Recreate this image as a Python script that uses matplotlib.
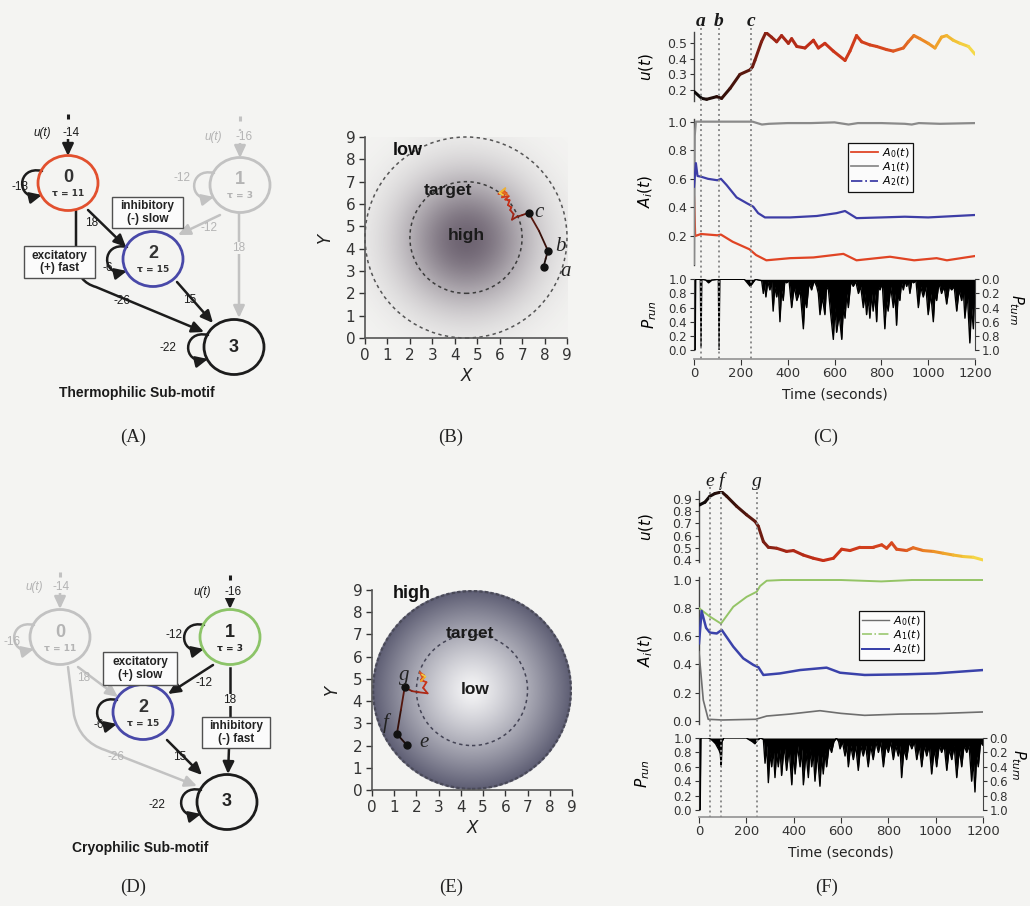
import numpy as np
import matplotlib
matplotlib.use("Agg")
import matplotlib.pyplot as plt
from matplotlib.patches import Ellipse, FancyArrowPatch, Rectangle, Circle
from matplotlib.path import Path
from matplotlib.collections import LineCollection
from matplotlib.colors import LinearSegmentedColormap
from matplotlib.lines import Line2D
import matplotlib.transforms as mtransforms

plt.rcParams['font.family'] = ['DejaVu Sans']
plt.rcParams['mathtext.fontset'] = 'dejavusans'

# ======================= DATA =======================
T_MAX = 1200
time_ticks = [0, 200, 400, 600, 800, 1000, 1200]

# ---- panel C (thermophilic) ----
c_marks_t = [30, 105, 245]
c_marks_lbl = ['a', 'b', 'c']
c_u_t = [0, 33, 54, 97, 118, 154, 196, 240, 250, 260, 288, 307, 331, 353, 374, 403, 417, 439, 474, 510,
         531, 559, 595, 645, 666, 694, 716, 751, 780, 822, 851, 894, 915, 939, 965, 1000, 1029, 1057, 1079, 1107,
         1136, 1172, 1200]
c_u = [0.19, 0.146, 0.14, 0.157, 0.146, 0.21, 0.30, 0.33, 0.35, 0.39, 0.51, 0.57, 0.54, 0.51, 0.55, 0.50, 0.53, 0.48, 0.47, 0.52,
       0.47, 0.50, 0.45, 0.39, 0.45, 0.55, 0.51, 0.49, 0.48, 0.46, 0.45, 0.47, 0.51, 0.55, 0.53, 0.50, 0.47, 0.54, 0.55, 0.52,
       0.50, 0.48, 0.43]
c_a0_t = [0, 5, 30, 100, 115, 165, 237, 265, 309, 410, 510, 638, 694, 837, 940, 1036, 1080, 1200]
c_a0 = [0.475, 0.2, 0.214, 0.205, 0.21, 0.16, 0.107, 0.067, 0.03, 0.045, 0.05, 0.075, 0.03, 0.055, 0.03, 0.045, 0.03, 0.06]
c_a1_t = [0, 3, 8, 250, 270, 290, 320, 400, 500, 600, 640, 660, 700, 800, 900, 930, 960, 1050, 1200]
c_a1 = [0.0, 0.9, 1.0, 1.0, 0.99, 0.98, 0.985, 0.99, 0.99, 0.995, 0.985, 0.98, 0.99, 0.99, 0.985, 0.98, 0.99, 0.985, 0.99]
c_a2_t = [0, 8, 15, 30, 60, 100, 115, 139, 182, 225, 253, 274, 303, 410, 524, 609, 645, 694, 800, 900, 1000, 1200]
c_a2 = [0.545, 0.71, 0.62, 0.615, 0.60, 0.59, 0.60, 0.557, 0.47, 0.43, 0.405, 0.36, 0.33, 0.33, 0.34, 0.36, 0.375, 0.325,
        0.33, 0.335, 0.33, 0.347]
c_prun_pts = [(0, 0.0), (5, 0.0), (7, 1.0), (27, 1.0), (30, 0.05), (33, 1.0), (50, 0.99), (62, 0.95), (76, 0.99),
              (104, 1.0), (107, 0.0), (110, 1.0), (215, 1.0), (240, 0.9), (262, 1.0), (289, 0.98), (296, 0.8),
              (301, 0.95), (307, 0.75), (315, 0.97), (324, 0.85), (331, 0.97), (338, 0.55), (345, 0.9), (353, 0.75),
              (360, 0.9), (367, 0.4), (374, 0.85), (381, 0.7), (388, 0.98), (395, 0.95), (406, 0.98), (417, 0.6),
              (428, 0.9), (439, 0.7), (453, 0.85), (467, 0.3), (474, 0.75), (481, 0.6), (491, 0.95), (502, 0.85),
              (513, 0.98), (524, 0.9), (531, 0.8), (538, 0.5), (548, 0.75), (559, 0.5), (566, 0.9), (574, 0.85),
              (584, 0.5), (595, 0.15), (602, 0.6), (609, 0.25), (620, 0.5), (631, 0.15), (638, 0.6), (645, 0.45),
              (652, 0.8), (659, 0.6), (670, 0.97), (680, 0.9), (691, 0.97), (702, 0.8), (712, 0.9), (723, 0.6),
              (730, 0.8), (737, 0.5), (744, 0.75), (751, 0.45), (758, 0.8), (765, 0.55), (772, 0.8), (780, 0.4),
              (787, 0.9), (794, 0.85), (804, 0.95), (815, 0.3), (822, 0.7), (829, 0.55), (840, 0.9), (851, 0.6),
              (858, 0.8), (865, 0.35), (872, 0.8), (879, 0.7), (886, 0.95), (894, 0.85), (901, 0.98), (908, 0.9),
              (915, 0.98), (922, 0.8), (930, 0.98), (937, 0.95), (948, 0.98), (958, 0.6), (968, 0.9), (979, 0.75),
              (990, 0.9), (1000, 0.5), (1011, 0.8), (1022, 0.4), (1029, 0.8), (1036, 0.7), (1046, 0.95),
              (1057, 0.8), (1068, 0.9), (1079, 0.65), (1090, 0.9), (1100, 0.85), (1111, 0.9), (1122, 0.55),
              (1132, 0.85), (1143, 0.7), (1150, 0.85), (1157, 0.45), (1167, 0.8), (1178, 0.1), (1185, 0.6),
              (1193, 0.3), (1200, 0.95)]

# ---- panel F (cryophilic) ----
f_marks_t = [46, 93, 245]
f_marks_lbl = ['e', 'f', 'g']
f_u_t = [0, 4, 25, 46, 67, 96, 117, 159, 201, 237, 251, 272, 293, 328, 370, 399, 441, 483, 525, 568,
         603, 638, 680, 736, 772, 793, 814, 835, 877, 905, 948, 990, 1032, 1075, 1117, 1159, 1200]
f_u = [0.85, 0.853, 0.873, 0.922, 0.944, 0.958, 0.922, 0.84, 0.77, 0.716, 0.675, 0.55, 0.504, 0.496, 0.47, 0.477,
       0.44, 0.414, 0.395, 0.414, 0.488, 0.477, 0.504, 0.504, 0.524, 0.496, 0.54, 0.488, 0.477, 0.50, 0.477, 0.47,
       0.455, 0.44, 0.428, 0.422, 0.40]
f_a0_t = [0, 18, 39, 100, 240, 286, 384, 511, 600, 700, 850, 1000, 1200]
f_a0 = [0.49, 0.147, 0.01, 0.005, 0.01, 0.033, 0.047, 0.071, 0.052, 0.038, 0.047, 0.05, 0.062]
f_a1_t = [0, 46, 93, 145, 201, 244, 258, 286, 350, 500, 600, 770, 900, 1100, 1200]
f_a1 = [0.80, 0.74, 0.69, 0.81, 0.88, 0.917, 0.957, 0.995, 1.0, 1.0, 1.0, 0.99, 1.0, 1.0, 1.0]
f_a2_t = [0, 11, 30, 46, 75, 96, 145, 187, 230, 251, 272, 342, 427, 539, 596, 700, 877, 1000, 1200]
f_a2 = [0.55, 0.78, 0.66, 0.626, 0.62, 0.645, 0.526, 0.443, 0.396, 0.38, 0.325, 0.336, 0.36, 0.377, 0.341,
        0.325, 0.33, 0.336, 0.36]
f_prun_pts = [(0, 0.0), (5, 0.0), (8, 1.0), (40, 1.0), (55, 0.97), (70, 0.92), (85, 0.83), (90, 0.78), (94, 0.6),
              (97, 0.95), (105, 1.0), (200, 1.0), (225, 0.95), (236, 0.92), (246, 0.97), (260, 1.0), (272, 0.98),
              (279, 0.65), (286, 0.9), (293, 0.38), (300, 0.8), (307, 0.6), (314, 0.85), (321, 0.45), (328, 0.8),
              (335, 0.6), (342, 0.85), (349, 0.48), (360, 0.9), (370, 0.55), (381, 0.85), (392, 0.35), (399, 0.8),
              (406, 0.5), (416, 0.9), (427, 0.6), (434, 0.85), (441, 0.35), (452, 0.8), (462, 0.45), (469, 0.85),
              (476, 0.6), (483, 0.8), (490, 0.4), (500, 0.8), (511, 0.33), (518, 0.75), (525, 0.5), (532, 0.8),
              (539, 0.6), (550, 0.9), (560, 0.8), (570, 0.95), (581, 1.0), (590, 0.95), (596, 0.85), (606, 0.95),
              (617, 0.75), (624, 0.9), (631, 0.6), (641, 0.9), (652, 0.7), (662, 0.9), (673, 0.55), (683, 0.9),
              (694, 0.75), (704, 0.9), (715, 0.6), (725, 0.9), (736, 0.7), (747, 0.95), (758, 0.8), (768, 0.95),
              (779, 0.6), (790, 0.9), (800, 0.8), (810, 0.95), (821, 0.7), (831, 0.9), (842, 0.75), (849, 0.9),
              (856, 0.45), (866, 0.85), (877, 0.7), (888, 0.95), (899, 0.85), (910, 0.95), (920, 0.7), (931, 0.9),
              (941, 0.6), (952, 0.9), (962, 0.75), (973, 0.9), (983, 0.5), (994, 0.85), (1004, 0.6), (1015, 0.9),
              (1025, 0.8), (1036, 0.9), (1047, 0.55), (1057, 0.85), (1068, 0.7), (1078, 0.9), (1089, 0.45),
              (1100, 0.85), (1110, 0.6), (1120, 0.9), (1131, 0.8), (1141, 0.9), (1152, 0.4), (1159, 0.7),
              (1166, 0.25), (1173, 0.75), (1180, 0.6), (1190, 0.95), (1198, 0.9), (1200, 0.95)]

# ---- panel B / E trajectories ----
b_traj_x = [7.96, 8.05, 8.15, 7.75, 7.29, 7.0, 6.77, 6.55, 6.62, 6.47, 6.52, 6.37, 6.44, 6.25, 6.4, 6.1, 6.3,
            5.95, 6.2, 6.35, 6.1, 6.25, 6.0, 6.15]
b_traj_y = [3.2, 3.55, 3.91, 4.8, 5.61, 5.5, 5.43, 5.3, 5.55, 5.73, 5.85, 5.95, 6.17, 6.2, 6.35, 6.3, 6.5, 6.45,
            6.6, 6.4, 6.55, 6.7, 6.5, 6.4]
b_traj_t = [30, 70, 105, 175, 245, 270, 300, 330, 360, 400, 450, 500, 550, 600, 650, 700, 750, 800, 850, 900,
            950, 1050, 1120, 1200]
b_pts_x = [7.96, 8.15, 7.29]
b_pts_y = [3.2, 3.91, 5.61]
b_pts_lbl = ['a', 'b', 'c']
b_lbl_xy = [(8.93, 2.98), (8.7, 4.1), (7.75, 5.6)]

e_traj_x = [1.57, 1.12, 1.3, 1.47, 1.8, 2.1, 2.5, 2.3, 2.45, 2.2, 2.35, 2.15, 2.3, 2.2, 2.4, 2.25]
e_traj_y = [2.02, 2.52, 3.6, 4.62, 4.45, 4.4, 4.35, 4.6, 4.85, 4.95, 5.15, 5.3, 5.0, 4.9, 5.1, 5.2]
e_traj_t = [46, 93, 170, 245, 300, 360, 420, 500, 580, 660, 740, 820, 900, 1000, 1100, 1200]
e_pts_x = [1.57, 1.12, 1.47]
e_pts_y = [2.02, 2.52, 4.62]
e_pts_lbl = ['e', 'f', 'g']
e_lbl_xy = [(2.35, 2.15), (0.62, 3.0), (1.45, 5.15)]

arena_ticks = list(range(10))

# ---- network diagrams (pixel coordinates of the drawing) ----
RED, BLUE, GREEN, GRAYN, BLK = '#e2502e', '#4848a8', '#8cc468', '#c2c2c2', '#1c1c1c'
GTXT = '#b4b4b4'

a_node_lbl = ['0', '1', '2', '3']
a_node_xy = [(68, 183), (240, 185), (153, 259), (234, 347)]
a_node_tau = ['τ = 11', 'τ = 3', 'τ = 15', None]
a_node_col = [RED, GRAYN, BLUE, BLK]
a_node_txt = ['#333333', GTXT, '#333333', '#222222']
a_loops = [(0, BLK), (1, GRAYN), (2, BLK), (3, BLK)]
a_edges = [((88, 210), (126, 247), BLK), ((177, 282), (213, 323), BLK),
           ((220, 215), (178, 235), GRAYN), ((239, 213), (239, 318), GRAYN)]
a_paths = [([(76, 211), (76, 262), (78, 282), (96, 287), (204, 332)], BLK)]
a_inputs = [(68, 114, 156, BLK), (240, 116, 158, GRAYN)]
a_labels = [('u(t)', (42, 133), BLK, 'italic', False), ('-14', (71, 133), BLK, 'normal', True),
            ('u(t)', (213, 137), GTXT, 'italic', False), ('-16', (244, 137), GTXT, 'normal', True),
            ('-18', (20, 187), BLK, 'normal', False), ('18', (92, 223), BLK, 'normal', False),
            ('-26', (122, 301), BLK, 'normal', False), ('-6', (108, 268), BLK, 'normal', False),
            ('15', (190, 300), BLK, 'normal', False), ('-22', (168, 348), BLK, 'normal', False),
            ('-12', (182, 178), GTXT, 'normal', False), ('-12', (209, 228), GTXT, 'normal', False),
            ('18', (239, 248), GTXT, 'normal', True)]
a_boxes = [(112, 197, 183, 228, 'inhibitory\n(-) slow'), (24, 246, 95, 278, 'excitatory\n(+) fast')]
a_title = ('Thermophilic Sub-motif', (137, 393))

d_node_lbl = ['0', '1', '2', '3']
d_node_xy = [(60, 637), (230, 637), (143, 712), (227, 802)]
d_node_tau = ['τ = 11', 'τ = 3', 'τ = 15', None]
d_node_col = [GRAYN, GREEN, BLUE, BLK]
d_node_txt = [GTXT, '#222222', '#333333', '#222222']
d_loops = [(0, GRAYN), (1, BLK), (2, BLK), (3, BLK)]
d_edges = [((78, 667), (118, 697), GRAYN), ((213, 665), (168, 694), BLK), ((167, 740), (202, 775), BLK),
           ((229, 748), (228, 774), BLK)]
d_paths = [([(68, 667), (74, 715), (80, 742), (105, 750), (197, 786)], GRAYN)]
d_lines = [((230, 668), (230, 717), BLK)]
d_inputs = [(60, 572, 609, GRAYN), (230, 575, 609, BLK)]
d_labels = [('u(t)', (34, 587), GTXT, 'italic', False), ('-14', (61, 587), GTXT, 'normal', True),
            ('u(t)', (202, 592), BLK, 'italic', False), ('-16', (233, 592), BLK, 'normal', True),
            ('-16', (12, 642), GTXT, 'normal', False), ('-12', (174, 635), BLK, 'normal', False),
            ('18', (84, 678), GTXT, 'normal', False), ('-12', (204, 683), BLK, 'normal', False),
            ('-6', (99, 725), BLK, 'normal', False), ('-26', (116, 757), GTXT, 'normal', False),
            ('15', (180, 757), BLK, 'normal', False), ('18', (230, 700), BLK, 'normal', True),
            ('-22', (157, 805), BLK, 'normal', False)]
d_boxes = [(103, 652, 177, 685, 'excitatory\n(+) slow'), (202, 717, 270, 748, 'inhibitory\n(-) fast')]
d_title = ('Cryophilic Sub-motif', (140, 848))

# ======================= FIGURE =======================
W, H = 1030, 906
BG = '#f4f4f2'
fig = plt.figure(figsize=(W / 100, H / 100), dpi=100)
fig.patch.set_facecolor(BG)
SANS = ['Liberation Sans', 'DejaVu Sans']
SERIF = ['Liberation Serif', 'DejaVu Serif']


def ax_px(x0, y0, x1, y1):
    a = fig.add_axes([x0 / W, 1 - y1 / H, (x1 - x0) / W, (y1 - y0) / H])
    a.patch.set_alpha(0)
    return a


time_cmap = LinearSegmentedColormap.from_list('tcol', [
    (0.0, '#0a0a0a'), (0.1, '#300e08'), (0.2, '#641a10'), (0.3, '#a42616'), (0.45, '#c83018'),
    (0.7, '#d84a20'), (0.82, '#ec8824'), (0.93, '#f2c034'), (1.0, '#f4dc4c')])


def colored_line(ax, x, y, t, lw, z=3):
    pts = np.column_stack([x, y])
    segs = np.stack([pts[:-1], pts[1:]], axis=1)
    tm = (np.asarray(t[:-1], float) + np.asarray(t[1:], float)) / 2 / T_MAX
    lc = LineCollection(segs, colors=time_cmap(tm), linewidths=lw, capstyle='round', joinstyle='round',
                        zorder=z)
    ax.add_collection(lc)


# ---------------- network panels ----------------
NODE_W, NODE_H = 60, 55
ARROW = '-|>,head_length=0.6,head_width=0.28'


def draw_net(ax, lbls, xys, taus, cols, txtc, loops, edges, paths, lines, inputs, labels, boxes, title):
    for lbl, (x, y), tau, c, tc in zip(lbls, xys, taus, cols, txtc):
        ax.add_patch(Ellipse((x, y), NODE_W, NODE_H, fill=False, ec=c, lw=2.0, zorder=3))
        if tau:
            ax.text(x, y - 5, lbl, ha='center', va='center', fontsize=13, fontweight='bold', color=tc,
                    family=SANS, zorder=4)
            ax.text(x, y + 11, tau, ha='center', va='center', fontsize=6.5, color=tc, fontweight='bold',
                    family=['DejaVu Sans'], zorder=4)
        else:
            ax.text(x, y, lbl, ha='center', va='center', fontsize=13, fontweight='bold', color=tc,
                    family=SANS, zorder=4)
    for idx, c in loops:
        cx, cy = xys[idx]
        A = (cx - 26, cy - 12)
        B = (cx - 26, cy + 12)
        verts = [A, (A[0] - 26, A[1] - 6), (B[0] - 26, B[1] + 6), B]
        p = Path(verts, [Path.MOVETO, Path.CURVE4, Path.CURVE4, Path.CURVE4])
        ax.add_patch(FancyArrowPatch(path=p, arrowstyle=ARROW, mutation_scale=12, lw=1.8, color=c, zorder=2))
    for p0, p1, c in edges:
        ax.add_patch(FancyArrowPatch(p0, p1, arrowstyle=ARROW, mutation_scale=12, lw=1.8, color=c,
                                     shrinkA=0, shrinkB=0, zorder=2))
    for verts, c in paths:
        codes = [Path.MOVETO, Path.LINETO, Path.CURVE3, Path.CURVE3, Path.LINETO]
        ax.add_patch(FancyArrowPatch(path=Path(verts, codes), arrowstyle=ARROW, mutation_scale=12, lw=1.8,
                                     color=c, zorder=2))
    for p0, p1, c in lines:
        ax.plot([p0[0], p1[0]], [p0[1], p1[1]], color=c, lw=1.8, zorder=2)
    for x, y0, y1, c in inputs:
        ax.plot([x, x], [y0, y0 + 5], color=c, lw=2.2, solid_capstyle='butt', zorder=2)
        ax.add_patch(FancyArrowPatch((x, y0 + 14), (x, y1), arrowstyle=ARROW, mutation_scale=12, lw=1.8,
                                     color=c, shrinkA=0, shrinkB=0, zorder=2))
    for s, (x, y), c, st, bg in labels:
        kw = dict(bbox=dict(fc=BG, ec='none', pad=0.3)) if bg else {}
        ax.text(x, y, s, ha='center', va='center', fontsize=8.5, color=c, style=st, family=SANS, zorder=5,
                **kw)
    for x0, y0, x1, y1, s in boxes:
        ax.add_patch(Rectangle((x0, y0), x1 - x0, y1 - y0, fc='#fbfbfb', ec='#505050', lw=1.0, zorder=6))
        ax.text((x0 + x1) / 2, (y0 + y1) / 2, s, ha='center', va='center', fontsize=8.5, fontweight='bold',
                family=SANS, color='#222222', linespacing=1.1, zorder=7)
    ax.text(title[1][0], title[1][1], title[0], ha='center', va='center', fontsize=10, fontweight='bold',
            family=SANS, color='#1a1a1a')


ax_a = ax_px(0, 100, 300, 420)
ax_a.set_xlim(0, 300)
ax_a.set_ylim(420, 100)
ax_a.axis('off')
draw_net(ax_a, a_node_lbl, a_node_xy, a_node_tau, a_node_col, a_node_txt, a_loops, a_edges, a_paths, [],
         a_inputs, a_labels, a_boxes, a_title)

ax_d = ax_px(0, 540, 300, 870)
ax_d.set_xlim(0, 300)
ax_d.set_ylim(870, 540)
ax_d.axis('off')
draw_net(ax_d, d_node_lbl, d_node_xy, d_node_tau, d_node_col, d_node_txt, d_loops, d_edges, d_paths, d_lines,
         d_inputs, d_labels, d_boxes, d_title)


# ---------------- arena panels ----------------
def arena_axes(x0, y0, x1, y1):
    ax = ax_px(x0, y0, x1, y1)
    ax.set_xlim(0, 9)
    ax.set_ylim(0, 9)
    for s in ['top', 'right']:
        ax.spines[s].set_visible(False)
    for s in ['left', 'bottom']:
        ax.spines[s].set_color('#555555')
        ax.spines[s].set_linewidth(1.2)
    ax.set_xticks(arena_ticks)
    ax.set_yticks(arena_ticks)
    ax.tick_params(direction='out', length=4, width=1, labelsize=11, pad=3, colors='#333333')
    ax.set_xlabel('X', fontsize=12, style='italic', labelpad=3, color='#222222')
    ax.set_ylabel('Y', fontsize=12, style='italic', labelpad=8, color='#222222')
    return ax


grid = np.linspace(0, 9, 400)
GX, GY = np.meshgrid(grid, grid)

# B: warm centre
ax_b = arena_axes(365, 137, 567, 338)
rB = np.hypot(GX - 4.5, GY - 4.4)
wB = 0.80 * np.exp(-(rB / 2.9) ** 2)
imgB = np.zeros(GX.shape + (4,))
imgB[..., 0], imgB[..., 1], imgB[..., 2] = 0.30, 0.25, 0.32
imgB[..., 3] = wB
ax_b.imshow(imgB, extent=(0, 9, 0, 9), origin='lower', interpolation='bilinear', zorder=0, aspect='auto')
ax_b.add_patch(Circle((4.5, 4.5), 4.5, fill=False, ls=(0, (2.2, 2.2)), lw=1.1, ec='#555555', clip_on=False))
ax_b.add_patch(Circle((4.5, 4.5), 2.5, fill=False, ls=(0, (2.2, 2.2)), lw=1.1, ec='#3c3c3c'))
ax_b.text(1.9, 8.4, 'low', fontsize=13, fontweight='bold', family=SANS, ha='center', va='center', color='#111')
ax_b.text(3.7, 6.6, 'target', fontsize=12.5, fontweight='bold', family=SANS, ha='center', va='center',
          color='#1a1a1a')
ax_b.text(4.5, 4.6, 'high', fontsize=12.5, fontweight='bold', family=SANS, ha='center', va='center',
          color='#1a1a1a')
colored_line(ax_b, b_traj_x, b_traj_y, b_traj_t, 1.3)
ax_b.plot(b_pts_x, b_pts_y, 'o', color='#111111', ms=5, zorder=5)
for s, (x, y) in zip(b_pts_lbl, b_lbl_xy):
    ax_b.text(x, y, s, fontsize=15, style='italic', family=SERIF, ha='center', va='center', color='#222',
              zorder=6)

# E: cold centre inside a disc
ax_e = arena_axes(372, 590, 572, 790)
rE = np.hypot(GX - 4.5, GY - 4.5)
frac = np.clip(rE / 4.5, 0, 1)
wE = 0.95 * frac ** 1.25
c0 = np.array([0.96, 0.96, 0.965])
c1 = np.array([0.33, 0.33, 0.42])
imgE = np.zeros(GX.shape + (4,))
for k in range(3):
    imgE[..., k] = c0[k] + (c1[k] - c0[k]) * wE
imgE[..., 3] = (rE <= 4.5).astype(float)
ax_e.imshow(imgE, extent=(0, 9, 0, 9), origin='lower', interpolation='bilinear', zorder=0, aspect='auto')
ax_e.add_patch(Circle((4.5, 4.5), 4.45, fill=False, ls=(0, (1.5, 1.0)), lw=1.6, ec='#4a4a58', clip_on=False))
ax_e.add_patch(Circle((4.5, 4.5), 2.5, fill=False, ls=(0, (2.2, 2.2)), lw=1.1, ec='#444455'))
ax_e.text(1.8, 8.85, 'high', fontsize=13, fontweight='bold', family=SANS, ha='center', va='center', color='#111')
ax_e.text(4.4, 7.05, 'target', fontsize=12.5, fontweight='bold', family=SANS, ha='center', va='center',
          color='#1a1a1a')
ax_e.text(4.65, 4.5, 'low', fontsize=12.5, fontweight='bold', family=SANS, ha='center', va='center',
          color='#1a1a1a')
colored_line(ax_e, e_traj_x, e_traj_y, e_traj_t, 1.3)
ax_e.plot(e_pts_x, e_pts_y, 'o', color='#111111', ms=5, zorder=5)
for s, (x, y) in zip(e_pts_lbl, e_lbl_xy):
    ax_e.text(x, y, s, fontsize=15, style='italic', family=SERIF, ha='center', va='center', color='#222',
              zorder=6)


# ---------------- time-series panels ----------------
def style_left(ax):
    for s in ['top', 'right', 'bottom']:
        ax.spines[s].set_visible(False)
    ax.spines['left'].set_color('#444444')
    ax.spines['left'].set_linewidth(1.0)
    ax.set_xticks([])
    ax.set_xlim(0, T_MAX)
    ax.tick_params(axis='y', direction='out', length=3, width=0.8, labelsize=9, pad=2, colors='#333333')


def ts_block(x0, x1, u_box, a_box, p_box, u_lim, u_ticks, a_lim, a_ticks, u_t, u_v, a_ser, leg_xy,
             p_pts, marks_t, marks_lbl, mark_y, mark_bold, off_px, lab_x, pturn_px, tl_y):
    ax_u = ax_px(x0, u_box[0], x1, u_box[1])
    style_left(ax_u)
    ax_u.set_ylim(*u_lim)
    ax_u.set_yticks(u_ticks)
    ax_u.set_yticklabels([f'{v:.1f}' for v in u_ticks])
    colored_line(ax_u, u_t, u_v, u_t, 2.2)
    ax_u.set_ylabel('$u(t)$', fontsize=11)
    ax_u.yaxis.set_label_coords(lab_x[0], 0.5)

    ax_A = ax_px(x0, a_box[0], x1, a_box[1])
    style_left(ax_A)
    ax_A.set_ylim(*a_lim)
    ax_A.set_yticks(a_ticks)
    ax_A.set_yticklabels([f'{v:.1f}' for v in a_ticks])
    handles, names = [], []
    for t, v, c, lw, ls, lab in a_ser:
        ax_A.plot(t, v, color=c, lw=lw, zorder=3)
        handles.append(Line2D([], [], color=c, lw=max(lw * 0.8, 1.0), ls=ls))
        names.append(lab)
    leg = ax_A.legend(handles, names, loc='upper left', bbox_to_anchor=(leg_xy[0] / W, 1 - leg_xy[1] / H),
                      bbox_transform=fig.transFigure, fontsize=8, frameon=True, fancybox=False,
                      edgecolor='#111111', framealpha=1, facecolor='#fbfbfb', borderpad=0.3, labelspacing=0.05,
                      handlelength=2.4, handletextpad=0.4, borderaxespad=0)
    leg.get_frame().set_linewidth(0.9)
    ax_A.set_ylabel('$A_i(t)$', fontsize=11)
    ax_A.yaxis.set_label_coords(lab_x[1], 0.5)

    ax_p = ax_px(x0, p_box[0], x1, p_box[1])
    for s in ['top', 'right']:
        ax_p.spines[s].set_visible(False)
    ax_p.spines['left'].set_color('#444444')
    ax_p.spines['bottom'].set_position(('outward', off_px * 0.72))
    ax_p.spines['bottom'].set_color('#9a9a9a')
    ax_p.spines['bottom'].set_linewidth(1.3)
    ax_p.set_xlim(0, T_MAX)
    ax_p.set_ylim(0, 1)
    pt = np.array([p[0] for p in p_pts], float)
    pv = np.array([p[1] for p in p_pts], float)
    ax_p.fill_between(pt, pv, 1.0, color='black', lw=0, zorder=2)
    ax_p.plot(pt, pv, color='black', lw=1.0, zorder=3)
    ax_p.set_yticks([0, 0.2, 0.4, 0.6, 0.8, 1.0])
    ax_p.set_yticklabels(['0.0', '0.2', '0.4', '0.6', '0.8', '1.0'])
    ax_p.set_xticks(time_ticks)
    ax_p.tick_params(axis='y', direction='out', length=3, width=0.8, labelsize=8.5, pad=2, colors='#333333')
    ax_p.tick_params(axis='x', direction='out', length=4, width=0.8, labelsize=9.5, pad=2, colors='#333333')
    ax_p.set_ylabel('$P_{run}$', fontsize=11)
    ax_p.yaxis.set_label_coords(lab_x[2], 0.5)
    ax_t = ax_p.twinx()
    ax_t.patch.set_alpha(0)
    for s in ['top', 'left', 'bottom']:
        ax_t.spines[s].set_visible(False)
    ax_t.spines['right'].set_color('#444444')
    ax_t.set_ylim(1, 0)
    ax_t.set_yticks([0, 0.2, 0.4, 0.6, 0.8, 1.0])
    ax_t.set_yticklabels(['0.0', '0.2', '0.4', '0.6', '0.8', '1.0'])
    ax_t.tick_params(axis='y', direction='out', length=3, width=0.8, labelsize=8.5, pad=1.5, colors='#333333')
    fig.text(pturn_px[0] / W, 1 - pturn_px[1] / H, '$P_{turn}$', rotation=270, ha='center', va='center',
             fontsize=10.5)
    fig.text((x0 + x1) / 2 / W, 1 - tl_y / H, 'Time (seconds)', ha='center', va='center', fontsize=10,
             color='#222222')

    trans = mtransforms.blended_transform_factory(ax_u.transData, fig.transFigure)
    for t, s in zip(marks_t, marks_lbl):
        fig.add_artist(Line2D([t, t], [1 - (u_box[0] - 4) / H, 1 - (p_box[1] + off_px) / H], transform=trans,
                              color='#8c8c8c', lw=1.4, ls=(0, (1, 1.6)), zorder=10))
        fig.text(t, 1 - mark_y / H, s, transform=trans, ha='center', va='center', fontsize=14,
                 style='italic', fontweight='bold' if mark_bold else 'normal', family=SERIF, color='#1a1a1a')


ts_block(694, 975, (32, 101), (118.8, 264.6), (279.3, 350), (0.129, 0.573), [0.2, 0.3, 0.4, 0.5],
         (0, 1.02), [0.2, 0.4, 0.6, 0.8, 1.0], c_u_t, c_u,
         [(c_a0_t, c_a0, '#e04424', 1.6, '-', '$A_0(t)$'),
          (c_a1_t, c_a1, '#8a8a8a', 1.6, '-', '$A_1(t)$'),
          (c_a2_t, c_a2, '#3d3da6', 1.6, '-.', '$A_2(t)$')],
         (848, 143), c_prun_pts, c_marks_t, c_marks_lbl, 22, True, 9, (-0.14, -0.14, -0.125), (1016, 310), 395)

ts_block(699, 983, (491, 562.4), (577.2, 723.5), (738, 810), (0.38, 0.965), [0.4, 0.5, 0.6, 0.7, 0.8, 0.9],
         (-0.02, 1.02), [0.0, 0.2, 0.4, 0.6, 0.8, 1.0], f_u_t, f_u,
         [(f_a0_t, f_a0, '#6e6e6e', 1.2, '-', '$A_0(t)$'),
          (f_a1_t, f_a1, '#94c466', 1.4, '-.', '$A_1(t)$'),
          (f_a2_t, f_a2, '#3a42aa', 1.8, '-', '$A_2(t)$')],
         (859, 611), f_prun_pts, f_marks_t, f_marks_lbl, 481, False, 7, (-0.155, -0.155, -0.165), (1018, 765), 853)

# ---------------- panel letters ----------------
for s, x, y in [('(A)', 133, 437), ('(B)', 451, 437), ('(C)', 826, 437),
                ('(D)', 133, 887), ('(E)', 451, 887), ('(F)', 827, 887)]:
    fig.text(x / W, 1 - y / H, s, ha='center', va='center', fontsize=13.5, family=SERIF, color='#222222')

fig.savefig('out.png', dpi=100, facecolor=BG)
